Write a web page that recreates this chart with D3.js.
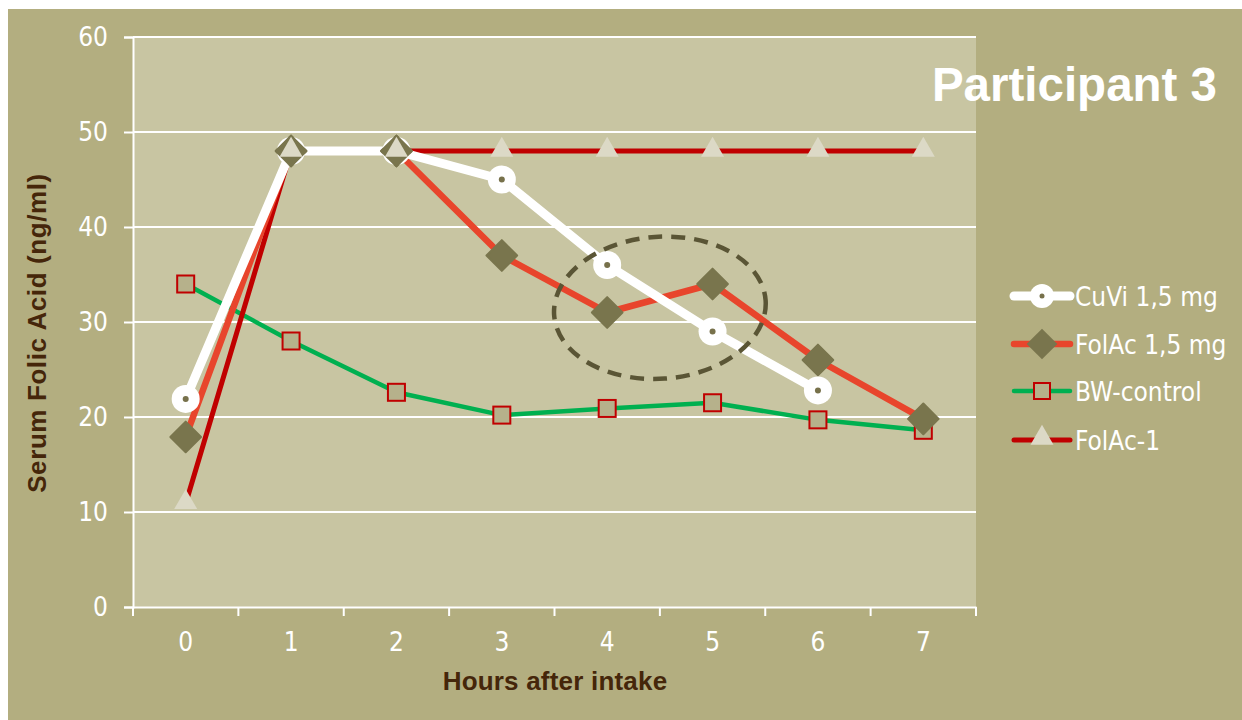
<!DOCTYPE html>
<html><head><meta charset="utf-8">
<script src="https://cdn.jsdelivr.net/npm/d3@7"></script>
<style>body{margin:0;background:#fff}svg{display:block}</style>
</head><body><svg id="c" width="1242" height="720"></svg>
<script>
const hours = [0,1,2,3,4,5,6,7];
const yTicks = [0,10,20,30,40,50,60];
const cuvi = [21.9,48,48,45,36,29,22.8,null];
const folac15 = [17.9,48,48,37,31,34,26,19.8];
const bwControl = [34,28,22.6,20.2,20.9,21.5,19.7,18.6];
const folac1 = [10.9,48,48,48,48,48,48,48];
const seriesNames = ["CuVi 1,5 mg","FolAc 1,5 mg","BW-control","FolAc-1"];

const svg = d3.select("#c");
const W=1242,H=720;
const m={l:133,t:37,r:976,b:607};
const tickFont = "'DejaVu Sans Condensed','DejaVu Sans',Verdana,sans-serif";
svg.append("rect").attr("x",8).attr("y",9).attr("width",W-8).attr("height",H-9).attr("fill","#b3ae80");
svg.append("rect").attr("x",m.l).attr("y",m.t).attr("width",m.r-m.l).attr("height",m.b-m.t).attr("fill","#c8c5a2");

const x = d3.scaleBand().domain(hours).range([m.l,m.r]);
const xc = d => x(d)+x.bandwidth()/2;
const y = d3.scaleLinear().domain([0,60]).range([m.b,m.t]);

// gridlines
svg.append("g").selectAll("line").data(yTicks.filter(d=>d>0)).join("line")
 .attr("x1",m.l).attr("x2",m.r).attr("y1",d=>y(d)).attr("y2",d=>y(d))
 .attr("stroke","#fff").attr("stroke-width",2);

// y axis
const ya = svg.append("g").attr("transform",`translate(${m.l},0)`)
 .call(d3.axisLeft(y).tickValues(yTicks).tickSize(9).tickPadding(16));
ya.select(".domain").attr("stroke","#fff").attr("stroke-width",2);
ya.selectAll(".tick line").attr("stroke","#fff").attr("stroke-width",2);
ya.selectAll("text").attr("fill","#fff").style("font-family",tickFont).style("font-size","26px");

// x axis
const xa = svg.append("g").attr("transform",`translate(0,${m.b})`)
 .call(d3.axisBottom(x).tickSize(0).tickPadding(26));
xa.select(".domain").attr("stroke","#fff").attr("stroke-width",2);
xa.selectAll("text").attr("fill","#fff").style("font-family",tickFont).style("font-size","26px");
svg.append("g").selectAll("line").data(d3.range(hours.length+1)).join("line")
 .attr("x1",i=>m.l+i*x.step()).attr("x2",i=>m.l+i*x.step())
 .attr("y1",m.b).attr("y2",m.b+9).attr("stroke","#fff").attr("stroke-width",2);

// titles
svg.append("text").attr("x",555).attr("y",690).attr("text-anchor","middle")
 .attr("fill","#45260a").style("font-family","'Liberation Sans',Arial,sans-serif").style("font-weight","bold").style("font-size","26px").style("letter-spacing","0.2px")
 .text("Hours after intake");
svg.append("text").attr("transform",`translate(46,333) rotate(-90)`).attr("text-anchor","middle")
 .attr("fill","#45260a").style("font-family","'Liberation Sans',Arial,sans-serif").style("font-weight","bold").style("font-size","26px").style("letter-spacing","0.6px")
 .text("Serum Folic Acid (ng/ml)");
svg.append("text").attr("x",1217).attr("y",101).attr("text-anchor","end")
 .attr("fill","#fff").style("font-family","'Liberation Sans',Arial,sans-serif").style("font-weight","bold").style("font-size","47.5px")
 .text("Participant 3");

const line = d3.line().defined(d=>d[1]!=null).x(d=>xc(d[0])).y(d=>y(d[1]));
const pts = arr => hours.map((h,i)=>[h,arr[i]]);

function drawLine(arr,color,w){
  svg.append("path").datum(pts(arr)).attr("d",line).attr("fill","none")
   .attr("stroke",color).attr("stroke-width",w).attr("stroke-linejoin","round").attr("stroke-linecap","round");
}
drawLine(bwControl,"#00b050",4.5);
drawLine(folac1,"#c00000",5);
drawLine(folac15,"#e8452c",6.5);
drawLine(cuvi,"#ffffff",9);

// markers
const tri = d3.symbol().type(d3.symbolTriangle).size(230);
const dia = d3.symbol().type(d3.symbolSquare).size(470);
svg.append("g").selectAll("rect").data(pts(bwControl)).join("rect")
 .attr("x",d=>xc(d[0])-8.5).attr("y",d=>y(d[1])-8.5).attr("width",17).attr("height",17)
 .attr("fill","#b6b18b").attr("stroke","#c00000").attr("stroke-width",2);
svg.append("g").selectAll("path").data(pts(folac1)).join("path")
 .attr("d",tri).attr("transform",d=>`translate(${xc(d[0])},${y(d[1])-1})`)
 .attr("fill","#dcd9c6");
svg.append("g").selectAll("path").data(pts(folac15)).join("path")
 .attr("d",dia).attr("transform",d=>`translate(${xc(d[0])},${y(d[1])}) rotate(45)`)
 .attr("fill","#79754d").attr("stroke","#79754d").attr("stroke-width",2).attr("stroke-linejoin","round");
const cv = pts(cuvi).filter(d=>d[1]!=null);
svg.append("g").selectAll("circle").data(cv).join("circle")
 .attr("cx",d=>xc(d[0])).attr("cy",d=>y(d[1])).attr("r",14).attr("fill","#fff");
svg.append("g").selectAll("circle").data(cv).join("circle")
 .attr("cx",d=>xc(d[0])).attr("cy",d=>y(d[1])).attr("r",3).attr("fill","#77714b");
// at hours 1-2 the diamond/triangle sit on top of the circles
svg.append("g").selectAll("path").data(pts(folac15).slice(1,3)).join("path")
   .attr("d",dia).attr("transform",d=>`translate(${xc(d[0])},${y(d[1])}) rotate(45)`)
   .attr("fill","#79754d").attr("stroke","#79754d").attr("stroke-width",2).attr("stroke-linejoin","round");
svg.append("g").selectAll("path").data(pts(folac1).slice(1,3)).join("path")
   .attr("d",tri).attr("transform",d=>`translate(${xc(d[0])},${y(d[1])-1})`).attr("fill","#dcd9c6");

// ellipse annotation
const ecx=(xc(4)+xc(5))/2, ecy=y(31.5);
svg.append("ellipse").attr("cx",ecx).attr("cy",ecy).attr("rx",106).attr("ry",71)
 .attr("transform",`rotate(-4,${ecx},${ecy})`)
 .attr("fill","none").attr("stroke","#5a5535").attr("stroke-width",4.5).attr("stroke-dasharray","14,9");

// legend
const lg = svg.append("g");
const lgY=[296,344,391,440];
const lgX1=1014,lgX2=1070, lgC=(lgX1+lgX2)/2;
const lc=(yy,c,w)=>lg.append("line").attr("x1",lgX1).attr("x2",lgX2).attr("y1",yy).attr("y2",yy).attr("stroke",c).attr("stroke-width",w).attr("stroke-linecap","round");
lc(lgY[0],"#fff",9);
lg.append("circle").attr("cx",lgC).attr("cy",lgY[0]).attr("r",12).attr("fill","#fff");
lg.append("circle").attr("cx",lgC).attr("cy",lgY[0]).attr("r",2.5).attr("fill","#77714b");
lc(lgY[1],"#e8452c",6.5);
lg.append("path").attr("d",dia).attr("transform",`translate(${lgC},${lgY[1]}) rotate(45)`).attr("fill","#79754d");
lc(lgY[2],"#00b050",4.5);
lg.append("rect").attr("x",lgC-8).attr("y",lgY[2]-8).attr("width",16).attr("height",16).attr("fill","#b6b18b").attr("stroke","#c00000").attr("stroke-width",2);
lc(lgY[3],"#c00000",5);
lg.append("path").attr("d",tri).attr("transform",`translate(${lgC},${lgY[3]-2})`).attr("fill","#dcd9c6");
lg.selectAll("text").data(seriesNames).join("text")
 .attr("x",1075).attr("y",(d,i)=>lgY[i]+10).attr("fill","#fff")
 .style("font-family",tickFont).style("font-size","26px").text(d=>d);
</script></body></html>
